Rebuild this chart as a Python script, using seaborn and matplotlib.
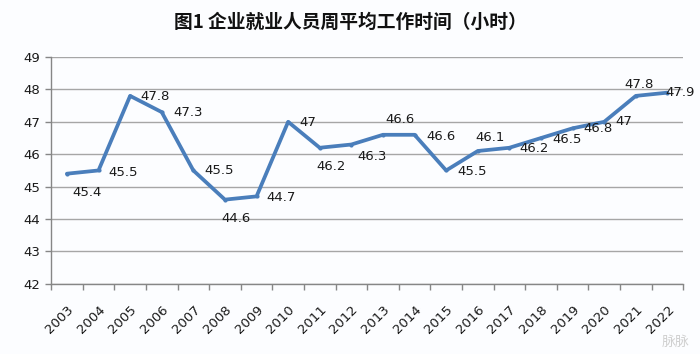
import matplotlib
matplotlib.use("Agg")
import pandas as pd
import seaborn as sns
from matplotlib import pyplot as plt
from matplotlib.ticker import FixedLocator

# data
years = [str(y) for y in range(2003, 2023)]
hours = [45.4, 45.5, 47.8, 47.3, 45.5, 44.6, 44.7, 47.0, 46.2, 46.3,
         46.6, 46.6, 45.5, 46.1, 46.2, 46.5, 46.8, 47.0, 47.8, 47.9]
value_labels = ["45.4", "45.5", "47.8", "47.3", "45.5", "44.6", "44.7", "47", "46.2", "46.3",
                "46.6", "46.6", "45.5", "46.1", "46.2", "46.5", "46.8", "47", "47.8", "47.9"]
y_ticks = [42, 43, 44, 45, 46, 47, 48, 49]
title = "图1 企业就业人员周平均工作时间（小时）"

# label placement (pixels from the point, y up)
label_offsets = [(20, -19), (25, -2), (25, -1), (26, 0), (26, 0), (11, -19), (25, -1),
                 (20, -1), (11, -19), (21, -12), (17, 15), (26, -2), (26, -1), (12, 14),
                 (25, -1), (26, -1), (25, 0), (20, 0), (3, 11), (13, 0)]

sns.set_theme(style="white")
plt.rcParams["font.family"] = ["DejaVu Sans", "Noto Sans CJK SC"]

df = pd.DataFrame({"idx": range(len(years)), "hours": hours})

bg = "#fcfdff"
line_color = "#4a7ebb"

fig = plt.figure(figsize=(7, 3.54), dpi=100, facecolor=bg)
ax = fig.add_axes([0.073, 0.198, 0.903, 0.641])
ax.set_facecolor(bg)

sns.lineplot(data=df, x="idx", y="hours", ax=ax, color=line_color, linewidth=2.7,
             marker="o", markersize=3, markeredgewidth=0, solid_capstyle="round")

for i, (v, lab) in enumerate(zip(hours, value_labels)):
    dx, dy = label_offsets[i]
    ax.annotate(lab, (i, v), xytext=(dx, dy), textcoords="offset pixels",
                ha="center", va="center", fontsize=9.5, color="#1a1a1a")

ax.set_xlim(-0.5, len(years) - 0.5)
ax.set_ylim(42, 49)
ax.set_yticks(y_ticks)
ax.set_yticklabels([str(t) for t in y_ticks], fontsize=9.5, color="#1a1a1a")
ax.yaxis.grid(True, color="#a6a6a6", linewidth=1)
ax.set_axisbelow(True)

ax.set_xticks(range(len(years)))
ax.set_xticklabels(years, rotation=45, ha="right", rotation_mode="anchor",
                   fontsize=9.5, color="#1a1a1a")
ax.tick_params(axis="x", which="major", length=0, pad=14)
ax.xaxis.set_minor_locator(FixedLocator([i - 0.5 for i in range(len(years) + 1)]))
ax.tick_params(axis="x", which="minor", length=4, color="#868686", width=1, direction="out", bottom=True)
ax.tick_params(axis="y", length=4, color="#868686", width=1, direction="out", left=True, pad=4)

for s in ["top", "right"]:
    ax.spines[s].set_visible(False)
for s in ["left", "bottom"]:
    ax.spines[s].set_color("#868686")
    ax.spines[s].set_linewidth(1)

ax.set_xlabel("")
ax.set_ylabel("")

fig.text(0.5, 0.937, title, ha="center", va="center", fontsize=13.5,
         fontweight="bold", family=["Noto Sans CJK SC", "DejaVu Sans"], color="#111111")
fig.text(0.985, 0.035, "脉脉", ha="right", va="center", fontsize=10,
         family=["Noto Sans CJK SC"], color="#d0d0d0")

fig.savefig("out.png", dpi=100, facecolor=bg)
